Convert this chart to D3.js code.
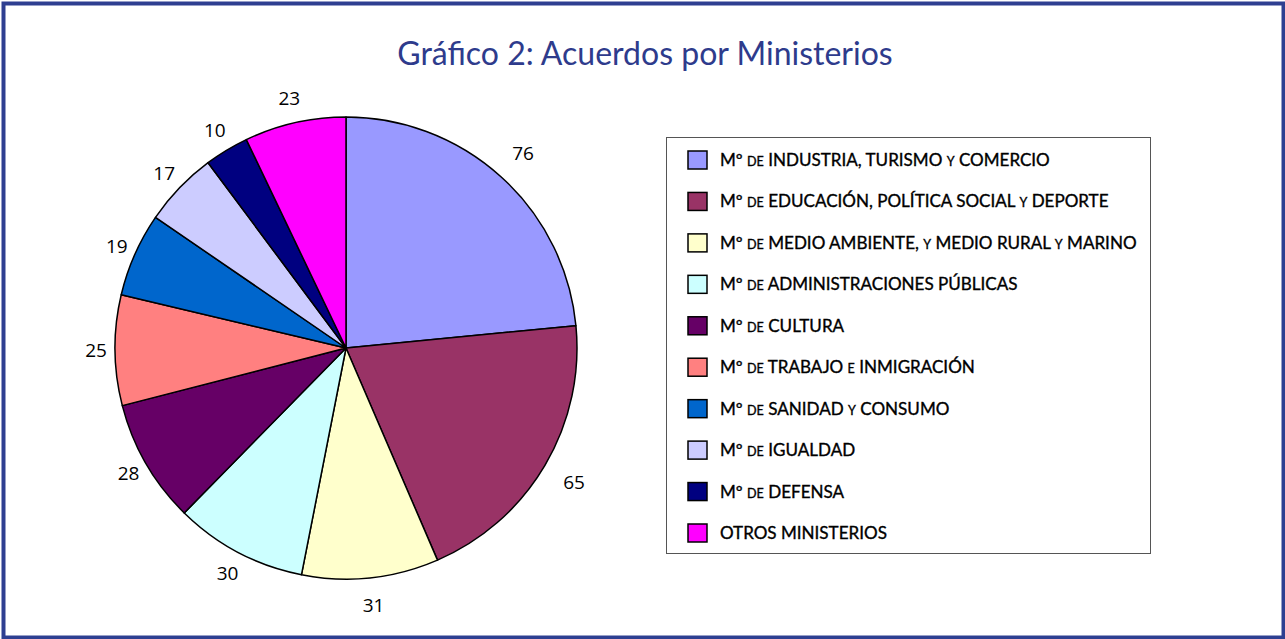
<!DOCTYPE html>
<html>
<head>
<meta charset="utf-8">
<script src="https://cdn.jsdelivr.net/npm/d3@7"></script>
<style>
  html, body { margin: 0; padding: 0; background: #fff; }
  svg { display: block; }
</style>
</head>
<body>
<div id="chart"></div>
<script>
// Acuerdos por Ministerios
const categories = [
  ["Mº ", ["de"], " INDUSTRIA, TURISMO ", ["y"], " COMERCIO"],
  ["Mº ", ["de"], " EDUCACIÓN, POLÍTICA SOCIAL ", ["y"], " DEPORTE"],
  ["Mº ", ["de"], " MEDIO AMBIENTE, ", ["y"], " MEDIO RURAL ", ["y"], " MARINO"],
  ["Mº ", ["de"], " ADMINISTRACIONES PÚBLICAS"],
  ["Mº ", ["de"], " CULTURA"],
  ["Mº ", ["de"], " TRABAJO ", ["e"], " INMIGRACIÓN"],
  ["Mº ", ["de"], " SANIDAD ", ["y"], " CONSUMO"],
  ["Mº ", ["de"], " IGUALDAD"],
  ["Mº ", ["de"], " DEFENSA"],
  ["OTROS MINISTERIOS"]
];
const values = [76, 65, 31, 30, 28, 25, 19, 17, 10, 23];
const colors = ["#9999ff", "#993366", "#ffffcc", "#ccffff", "#660066",
                "#ff8080", "#0066cc", "#ccccff", "#000080", "#ff00ff"];
const title = "Gráfico 2: Acuerdos por Ministerios";

const width = 1285, height = 639;
const svg = d3.select('#chart').append('svg')
  .attr('width', width)
  .attr('height', height);

// frame
svg.append('rect')
  .attr('x', 3.5).attr('y', 3.5)
  .attr('width', width - 5).attr('height', height - 5)
  .attr('fill', '#fff')
  .attr('stroke', '#2e3f91')
  .attr('stroke-width', 4);

svg.append('text')
  .attr('x', 645).attr('y', 65)
  .attr('text-anchor', 'middle')
  .attr('font-family', 'Lato, "Open Sans", sans-serif')
  .attr('font-size', 32)
  .attr('fill', '#2e3b8c')
  .text(title);

// pie
const cx = 346, cy = 348, radius = 231;
const pie = d3.pie().sort(null).value(d => d);
const arcs = pie(values);
const arc = d3.arc().innerRadius(0).outerRadius(radius);

const g = svg.append('g').attr('transform', `translate(${cx},${cy})`);
g.selectAll('path')
  .data(arcs)
  .join('path')
    .attr('d', arc)
    .attr('fill', (d, i) => colors[i])
    .attr('stroke', '#000')
    .attr('stroke-width', 1.5)
    .attr('stroke-linejoin', 'round');

// labels sit a bit further out on the right side than on the left
const labelPos = d => {
  const a = (d.startAngle + d.endAngle) / 2;
  const r = 258 + 8 * Math.sin(a);
  return [r * Math.sin(a), -r * Math.cos(a)];
};

g.selectAll('text.lbl')
  .data(arcs)
  .join('text')
    .attr('class', 'lbl')
    .attr('transform', d => `translate(${labelPos(d)})`)
    .attr('text-anchor', 'middle')
    .attr('dy', '0.35em')
    .attr('font-family', '"Open Sans", sans-serif')
    .attr('font-size', 19)
    .attr('fill', '#000')
    .text(d => d.data);

// legend
const lx = 666.5, ly = 137.5, lw = 484, lh = 416;
svg.append('rect')
  .attr('x', lx).attr('y', ly)
  .attr('width', lw).attr('height', lh)
  .attr('fill', '#fff')
  .attr('stroke', '#555')
  .attr('stroke-width', 1);

const rowY = d3.scalePoint()
  .domain(d3.range(categories.length))
  .range([159, 532]);

const rows = svg.selectAll('g.row')
  .data(categories)
  .join('g')
    .attr('class', 'row')
    .attr('transform', (d, i) => `translate(0,${rowY(i)})`);

rows.append('rect')
  .attr('x', 688).attr('y', -8)
  .attr('width', 19).attr('height', 18)
  .attr('fill', (d, i) => colors[i])
  .attr('stroke', '#000')
  .attr('stroke-width', 1.5);

const txt = rows.append('text')
  .attr('x', 720).attr('y', 7)
  .attr('font-family', 'Lato, "Open Sans", sans-serif')
  .attr('font-size', 19)
  .attr('fill', '#000')
  .attr('stroke', '#000')
  .attr('stroke-width', 0.35);

txt.each(function(parts) {
  const t = d3.select(this);
  parts.forEach(p => {
    if (Array.isArray(p)) {
      t.append('tspan').attr('font-size', 14).text(p[0].toUpperCase());
    } else {
      t.append('tspan').text(p);
    }
  });
});

// fit width of the first row to the picture (720 -> 1050)
const w0 = txt.nodes()[0].getComputedTextLength();
const k = 330 / w0;
txt.attr('font-size', 19 * k);
txt.selectAll('tspan').filter(function() { return this.getAttribute('font-size'); })
  .attr('font-size', 14 * k);
</script>
</body>
</html>
